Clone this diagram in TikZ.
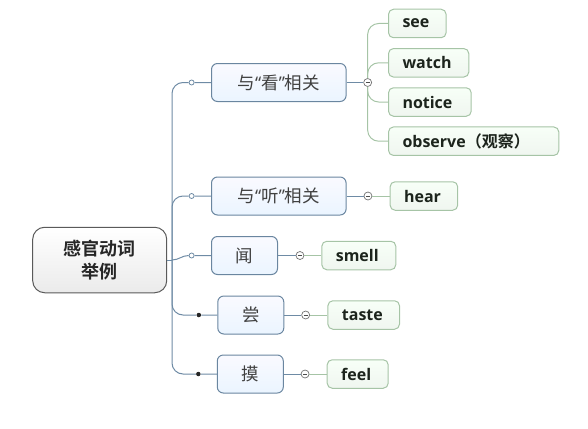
\documentclass[tikz,border=0pt]{standalone}
\usepackage{fontspec}
\setmainfont{Open Sans}
\newfontfamily\cjk{Noto Sans CJK SC}[BoldFont={Noto Sans CJK SC Bold}]
\usetikzlibrary{positioning,calc}
\definecolor{branch}{HTML}{6E8BA5}
\definecolor{rootline}{HTML}{5A5A5A}
\definecolor{topicline}{HTML}{6A86A0}
\definecolor{leafline}{HTML}{A6C4A6}
\definecolor{leaftext}{HTML}{1C241C}
\newcommand\qq[1]{{\rmfamily“}#1{\rmfamily”}}

\begin{document}
\begin{tikzpicture}[x=1pt,y=-1pt]
		\tikzset{
			root box/.style={
					draw=rootline, top color=white, bottom color=black!8,
					rounded corners=12pt, line width=1pt,
					minimum width=134pt, minimum height=65.5pt, align=center,
					font=\cjk\bfseries\fontsize{18}{23}\selectfont, text=black!85,
				},
			topic/.style={
					draw=topicline, top color=blue!2, bottom color=blue!50!cyan!8,
					rounded corners=6pt, line width=1pt, minimum height=38pt,
					font=\cjk\fontsize{17.5}{20}\selectfont, text=black!75, anchor=west,
				},
			leaf/.style={
					draw=leafline, top color=green!3, bottom color=green!40!black!6,
					rounded corners=5pt, line width=1pt, minimum height=28.5pt,
					inner xsep=14pt, text width=#1, align=left,
					font=\bfseries\fontsize{16}{18}\selectfont, text=leaftext, anchor=west,
				},
			knob/.style={circle, draw=branch, fill=white, line width=0.8pt,
					inner sep=0pt, minimum size=5pt},
			pin/.style={circle, fill=black!85, inner sep=0pt, minimum size=4.5pt},
			fold/.style={circle, draw=black!55, fill=white, line width=0.7pt,
					inner sep=0pt, minimum size=8pt,
					path picture={\draw[black!70, line width=0.8pt]
						($(path picture bounding box.center)+(-2,0)$) --
						($(path picture bounding box.center)+(2,0)$);}},
			trunk/.style={draw=branch, line width=1pt, rounded corners=11pt},
			twig/.style={draw=leafline, line width=1pt, rounded corners=11pt},
			%every node/.style={draw=red},
		}
		\useasboundingbox (0,0) rectangle (588,428);
		\node[root box] (root) at (99.7,260) {感官动词\\举例};
		\coordinate (hub) at (172,260);
		%
		\node[topic, minimum width=134.6pt] (look) at (211,82.5) {与\qq{看}相关};
		\node[topic, minimum width=134.6pt] (listen) at (211,196) {与\qq{听}相关};
		\node[topic, minimum width=66pt] (smellv) at (211,255.5) {闻};
		\node[topic, minimum width=66pt] (tastev) at (217.3,315) {尝};
		\node[topic, minimum width=66pt] (touchv) at (216.8,374) {摸};
		%
		\node[knob, left=16.5pt of look] (k1) {};
		\node[knob, left=16.5pt of listen] (k2) {};
		\node[knob, left=16.5pt of smellv] (k3) {};
		\node[pin, left=16pt of tastev] (k4) {};
		\node[pin, left=16pt of touchv] (k5) {};
		%
		\node[fold, right=16.7pt of look] (f1) {};
		\node[fold, right=17pt of listen] (f2) {};
		\node[fold, right=17.6pt of smellv] (f3) {};
		\node[fold, right=17pt of tastev] (f4) {};
		\node[fold, right=16.9pt of touchv] (f5) {};
		%
		\node[leaf=29.6pt] (see) at (388,23.5) {see};
		\node[leaf=52.3pt] (watch) at (388,62.8) {watch};
		\node[leaf=54.7pt] (notice) at (388,102) {notice};
		\node[leaf=142.3pt] (observe) at (388,141.2) {observe{\cjk（观察）}};
		\node[leaf=39.6pt, right=17.3pt of f2] (hear) {hear};
		\node[leaf=46pt, right=17pt of f3] (smell) {smell};
		\node[leaf=43.6pt, right=17.4pt of f4] (taste) {taste};
		\node[leaf=33pt, right=17.3pt of f5] (feel) {feel};
		%
		\draw[trunk] (root.east) -- (hub);
		\draw[trunk] (hub) |- (k1) -- (look);
		\draw[trunk] (hub) |- (k2) -- (listen);
		\draw[trunk] (hub) to[out=0, in=180] (k3) -- (smellv);
		\draw[trunk] (hub) |- (k4) -- (tastev);
		\draw[trunk] (hub) |- (k5) -- (touchv);
		%
		\draw[trunk] (look) -- (f1);
		\draw[trunk] (listen) -- (f2);
		\draw[trunk] (smellv) -- (f3);
		\draw[trunk] (tastev) -- (f4);
		\draw[trunk] (touchv) -- (f5);
		%
		\draw[twig] (f1.north) |- (see);
		\draw[twig] (f1.north) |- (watch);
		\draw[twig] (f1.south) |- (notice);
		\draw[twig] (f1.south) |- (observe);
		\draw[twig] (f2) -- (hear);
		\draw[twig] (f3) -- (smell);
		\draw[twig] (f4) -- (taste);
		\draw[twig] (f5) -- (feel);
	\end{tikzpicture}
\end{document}
